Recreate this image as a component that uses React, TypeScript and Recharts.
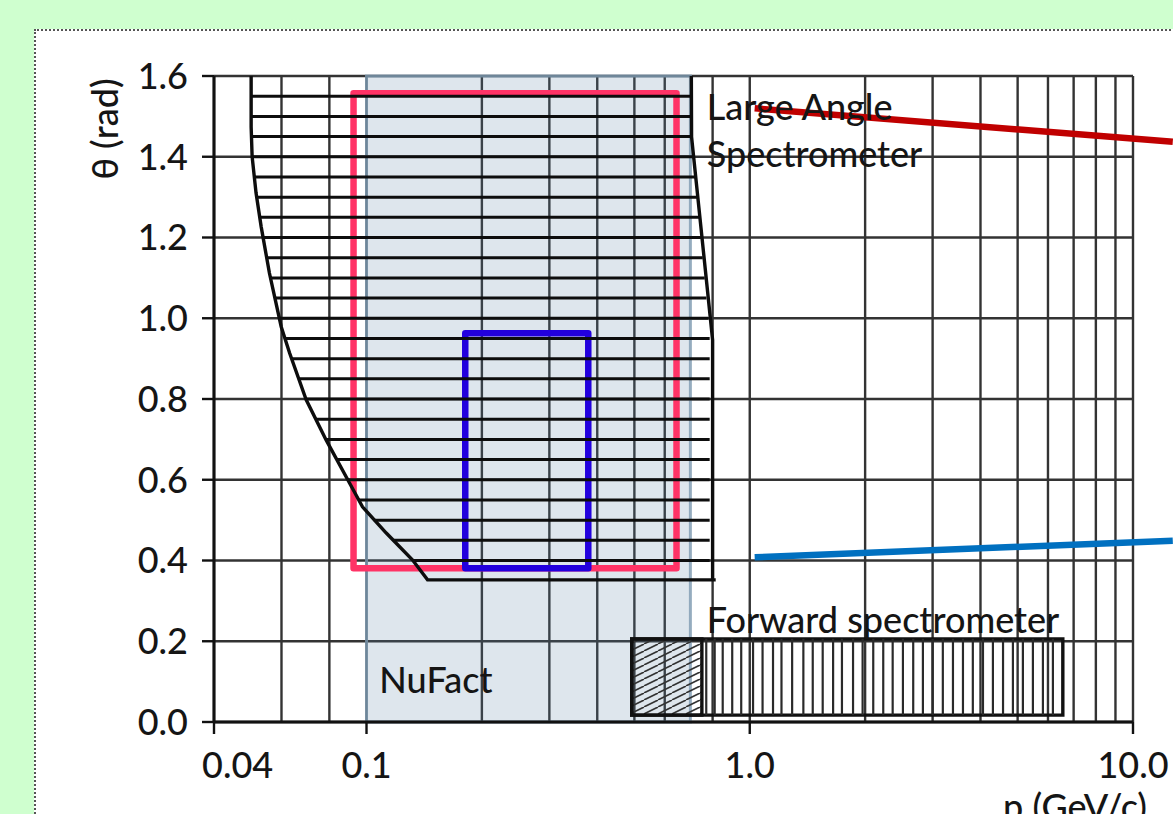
import {
	ComposedChart,
	XAxis,
	YAxis,
	CartesianGrid,
	ReferenceArea,
	ReferenceLine,
	ReferenceDot,
	Scatter,
} from "recharts";

/* ── Шрифты и цвета ─────────────────────────────────── */
const FONT = "Lato, 'Open Sans', sans-serif";
const INK = "#151515";
const GRID = "#333";

/* ── Оси ─────────────────────────────────────────────── */
const xTicks = [0.04, 0.1, 1, 10];
const xTickLabels = ["0.04", "0.1", "1.0", "10.0"];
const yTicks = [0, 0.2, 0.4, 0.6, 0.8, 1.0, 1.2, 1.4, 1.6];
const gridP = [
	0.04, 0.05, 0.06, 0.07, 0.08, 0.09, 0.1, 0.2, 0.3, 0.4, 0.5, 0.6, 0.7, 0.8,
	0.9, 1, 2, 3, 4, 5, 6, 7, 8, 9, 10,
];

/* ── Large Angle Spectrometer: контур и штриховка ───── */
const lasLeftEdge = [
	{ p: 0.05, theta: 1.6 },
	{ p: 0.05, theta: 1.474 },
	{ p: 0.0503, theta: 1.4 },
	{ p: 0.0515, theta: 1.31 },
	{ p: 0.0531, theta: 1.227 },
	{ p: 0.0558, theta: 1.112 },
	{ p: 0.0599, theta: 0.979 },
	{ p: 0.063, theta: 0.914 },
	{ p: 0.0696, theta: 0.798 },
	{ p: 0.0785, theta: 0.698 },
	{ p: 0.0903, theta: 0.592 },
	{ p: 0.0976, theta: 0.533 },
	{ p: 0.1126, theta: 0.468 },
	{ p: 0.1319, theta: 0.401 },
	{ p: 0.1443, theta: 0.352 },
	{ p: 0.815, theta: 0.352 },
];
const lasRightEdge = [
	{ p: 0.8, theta: 0.352 },
	{ p: 0.8, theta: 0.946 },
	{ p: 0.705, theta: 1.449 },
	{ p: 0.704, theta: 1.6 },
];
const lasHatchTheta = [
	1.55, 1.5, 1.45, 1.4, 1.35, 1.3, 1.25, 1.2, 1.15, 1.1, 1.05, 1.0, 0.95, 0.9,
	0.85, 0.8, 0.75, 0.7, 0.65, 0.6, 0.55, 0.5, 0.45, 0.4,
];
const lasHatchFrom = [
	0.05, 0.05, 0.0501, 0.0503, 0.0509, 0.0517, 0.0527, 0.0537, 0.0549, 0.0562,
	0.0576, 0.0592, 0.0613, 0.0637, 0.0664, 0.0695, 0.0737, 0.0783, 0.0835,
	0.0893, 0.0955, 0.1045, 0.118, 0.132,
];
const lasHatchTo = [
	0.708, 0.708, 0.708, 0.712, 0.72, 0.728, 0.737, 0.745, 0.754, 0.763, 0.771,
	0.78, 0.786, 0.786, 0.786, 0.786, 0.786, 0.786, 0.786, 0.786, 0.786, 0.786,
	0.786, 0.786,
];

/* ── Области ─────────────────────────────────────────── */
const nuFactP = [0.1, 0.7];
const pinkBoxP = [0.0925, 0.644];
const pinkBoxTheta = [0.381, 1.557];
const blueBoxP = [0.181, 0.379];
const blueBoxTheta = [0.381, 0.963];

/* ── Forward spectrometer ────────────────────────────── */
const fwdBoxP = [0.492, 6.56];
const fwdBoxTheta = [0.017, 0.206];
const fwdDiagP = [0.492, 0.75];
const fwdHatchP = [
	0.77, 0.81, 0.85, 0.9, 0.95, 1.02, 1.08, 1.15, 1.21, 1.29, 1.38, 1.46, 1.55,
	1.65, 1.74, 1.86, 1.97, 2.1, 2.23, 2.36, 2.51, 2.67, 2.83, 3.0, 3.19, 3.39,
	3.6, 3.82, 4.06, 4.31, 4.58, 4.86, 5.16, 5.48, 5.82, 6.18,
];

/* ── Стрелки-указатели (уходят за край) ─────────────── */
const redPointer = [
	{ x: 1.03, y: 1.52 },
	{ x: 12.7, y: 1.437 },
];
const bluePointer = [
	{ x: 1.03, y: 0.408 },
	{ x: 12.7, y: 0.449 },
];

/* ── Helpers ─────────────────────────────────────────── */
function XTick({ x, y, payload }: any) {
	const i = xTicks.indexOf(payload.value);
	const first = i === 0;
	return (
		<text
			x={x}
			y={y}
			dy="0.71em"
			dx={first ? -12 : 0}
			textAnchor={first ? "start" : "middle"}
			fontFamily={FONT}
			fontWeight={500}
			fontSize={36}
			fill={INK}
		>
			{xTickLabels[i]}
		</text>
	);
}

const tag = (text: string) => (props: any) => (
	<text
		x={props.cx}
		y={props.cy}
		fontFamily={FONT}
		fontWeight={500}
		fontSize={36}
		fill={INK}
	>
		{text}
	</text>
);

export default function App() {
	return (
		<div
			style={{
				position: "fixed",
				left: 0,
				top: 0,
				width: 1173,
				height: 814,
				background: "#cfffcf",
				overflow: "hidden",
			}}
		>
			<div
				style={{
					position: "absolute",
					left: 34,
					top: 29,
					width: 1300,
					height: 900,
					background: "#fff",
					border: "2px dotted #555",
				}}
			/>
			<div style={{ position: "absolute", left: 0, top: 0 }}>
				<ComposedChart
					width={1173}
					height={814}
					margin={{ top: 76, right: 40, bottom: 32, left: 154 }}
				>
					<defs>
						<pattern
							id="fwdDiag"
							patternUnits="userSpaceOnUse"
							width={14}
							height={7}
						>
							<path
								d="M0,7 L14,0 M-7,3.5 L0,0 M14,7 L21,3.5"
								stroke="#333"
								strokeWidth={1.6}
							/>
						</pattern>
					</defs>

					<CartesianGrid
						horizontalValues={yTicks}
						verticalValues={gridP}
						stroke={GRID}
						strokeWidth={2.4}
						fill="none"
					/>

					<XAxis
						type="number"
						dataKey="p"
						scale="log"
						domain={[0.04, 10]}
						allowDataOverflow
						ticks={xTicks}
						tick={<XTick />}
						tickSize={12}
						tickMargin={18}
						height={60}
						axisLine={{ stroke: "#111", strokeWidth: 3 }}
						tickLine={{ stroke: "#111", strokeWidth: 2.4 }}
						label={(props: any) => {
							const vb = props.viewBox;
							return (
								<text
									x={vb.x + vb.width + 14}
									y={vb.y + 98}
									textAnchor="end"
									fontFamily={FONT}
									fontWeight={500}
									fontSize={36}
									fill={INK}
								>
									p (GeV/c)
								</text>
							);
						}}
					/>
					<YAxis
						type="number"
						dataKey="theta"
						domain={[0, 1.6]}
						allowDataOverflow
						ticks={yTicks}
						tickFormatter={(v: number) => v.toFixed(1)}
						tick={{ fontFamily: FONT, fontWeight: 500, fontSize: 36, fill: INK }}
						tickSize={12}
						tickMargin={14}
						width={60}
						axisLine={{ stroke: "#111", strokeWidth: 3 }}
						tickLine={{ stroke: "#111", strokeWidth: 2.4 }}
						label={(props: any) => {
							const vb = props.viewBox;
							const cx = vb.x + vb.width - 110;
							const cy = vb.y + 53;
							return (
								<text
									x={cx}
									y={cy}
									transform={`rotate(-90, ${cx}, ${cy})`}
									textAnchor="middle"
									dominantBaseline="central"
									fontFamily={FONT}
									fontWeight={500}
									fontSize={36}
									fill={INK}
								>
									θ (rad)
								</text>
							);
						}}
					/>

					{/* NuFact */}
					<ReferenceArea
						x1={nuFactP[0]}
						x2={nuFactP[1]}
						y1={0}
						y2={1.6}
						fill="#5b80a3"
						fillOpacity={0.2}
						stroke="#7d9ab0"
						strokeWidth={3}
						strokeOpacity={0.8}
					/>

					{/* штриховка LAS */}
					{lasHatchTheta.map((t, i) => (
						<ReferenceLine
							key={`h-${t}`}
							segment={[
								{ x: lasHatchFrom[i], y: t },
								{ x: lasHatchTo[i], y: t },
							]}
							stroke="#0d0d0d"
							strokeWidth={3}
						/>
					))}

					<Scatter
						data={lasLeftEdge}
						line={{ stroke: "#0d0d0d", strokeWidth: 3.4 }}
						lineType="joint"
						shape={() => <g />}
						isAnimationActive={false}
					/>
					<Scatter
						data={lasRightEdge}
						line={{ stroke: "#0d0d0d", strokeWidth: 3.4 }}
						lineType="joint"
						shape={() => <g />}
						isAnimationActive={false}
					/>

					{/* Forward spectrometer */}
					<ReferenceArea
						x1={fwdDiagP[0]}
						x2={fwdDiagP[1]}
						y1={fwdBoxTheta[0]}
						y2={fwdBoxTheta[1]}
						fill="url(#fwdDiag)"
						fillOpacity={1}
						stroke="#111"
						strokeWidth={3.4}
					/>
					{fwdHatchP.map((p) => (
						<ReferenceLine
							key={`v-${p}`}
							segment={[
								{ x: p, y: fwdBoxTheta[0] },
								{ x: p, y: fwdBoxTheta[1] },
							]}
							stroke="#2a2a2a"
							strokeWidth={2.2}
						/>
					))}
					<ReferenceArea
						x1={fwdBoxP[0]}
						x2={fwdBoxP[1]}
						y1={fwdBoxTheta[0]}
						y2={fwdBoxTheta[1]}
						fill="none"
						stroke="#111"
						strokeWidth={3.4}
					/>

					{/* Подписи */}
					<ReferenceDot x={0.772} y={1.491} r={0} shape={tag("Large Angle")} />
					<ReferenceDot x={0.772} y={1.375} r={0} shape={tag("Spectrometer")} />
					<ReferenceDot
						x={0.772}
						y={0.221}
						r={0}
						shape={tag("Forward spectrometer")}
					/>
					<ReferenceDot x={0.108} y={0.072} r={0} shape={tag("NuFact")} />

					{/* Выделения */}
					<ReferenceArea
						x1={pinkBoxP[0]}
						x2={pinkBoxP[1]}
						y1={pinkBoxTheta[0]}
						y2={pinkBoxTheta[1]}
						fill="none"
						stroke="#ff3366"
						strokeWidth={6.5}
						strokeLinejoin="round"
					/>
					<ReferenceArea
						x1={blueBoxP[0]}
						x2={blueBoxP[1]}
						y1={blueBoxTheta[0]}
						y2={blueBoxTheta[1]}
						fill="none"
						stroke="#2200dd"
						strokeWidth={6.5}
						strokeLinejoin="round"
					/>

					<ReferenceLine
						segment={redPointer}
						ifOverflow="visible"
						stroke="#c00000"
						strokeWidth={6.5}
					/>
					<ReferenceLine
						segment={bluePointer}
						ifOverflow="visible"
						stroke="#0070c0"
						strokeWidth={6.5}
					/>
				</ComposedChart>
			</div>
		</div>
	);
}
